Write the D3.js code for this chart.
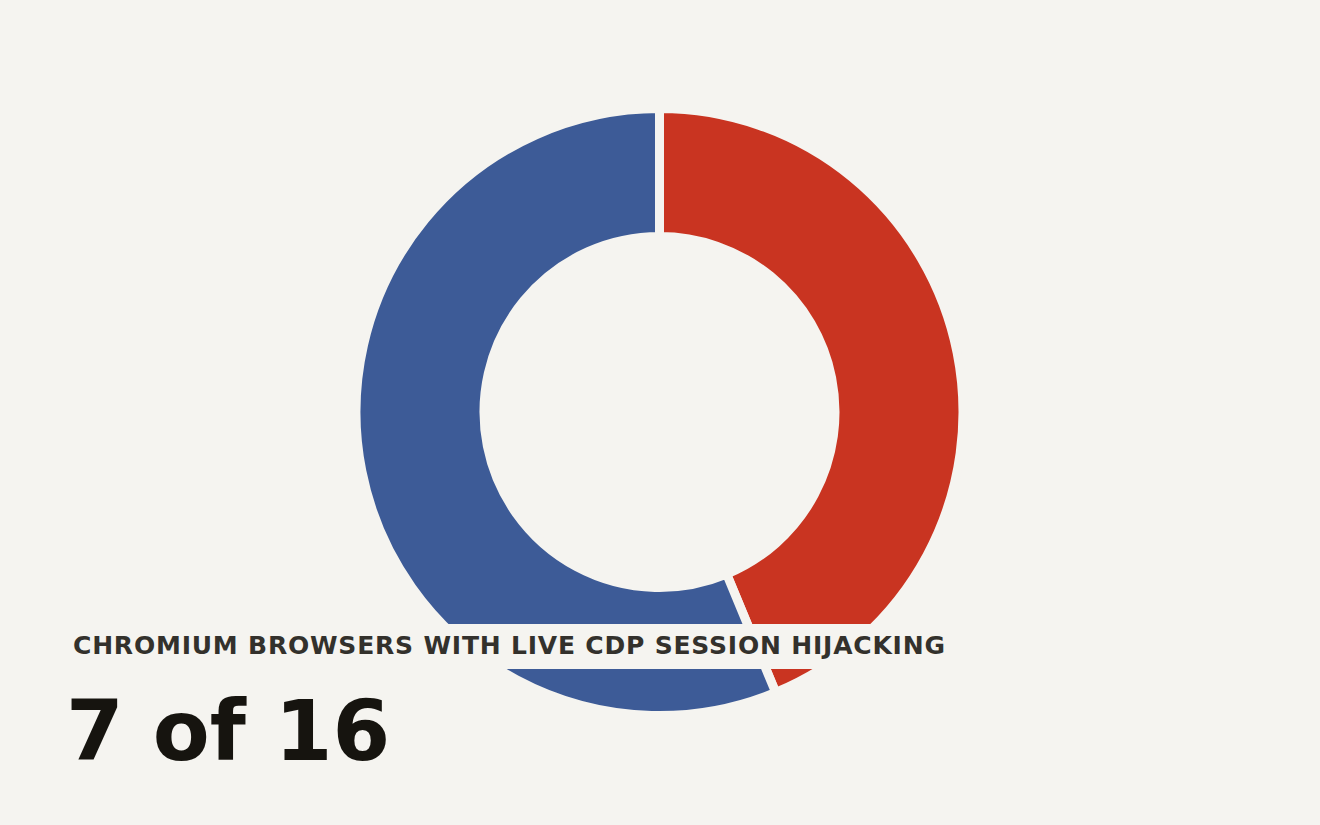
<!DOCTYPE html>
<html>
<head>
<meta charset="utf-8">
<script src="https://cdn.jsdelivr.net/npm/d3@7"></script>
<style>
  html, body { margin: 0; padding: 0; background: #f5f4f0; }
  svg { display: block; }
</style>
</head>
<body>
<svg id="canvas" width="1320" height="825"></svg>
<script>
// share of chromium browsers with live CDP session hijacking
const categories = ["Hijackable", "Not hijackable"];
const counts = [7, 9];
const colors = ["#c93421", "#3d5b97"];
const labelText = "CHROMIUM BROWSERS WITH LIVE CDP SESSION HIJACKING";

const total = d3.sum(counts);
const bg = "#f5f4f0";

const svg = d3.select("#canvas");
const width = 1320, height = 825;

svg.append("rect").attr("width", width).attr("height", height).attr("fill", bg);

const cx = 659.5, cy = 412;
const outerR = 303.5, innerR = 175.5;

const pie = d3.pie().sort(null).value(d => d.value);
const arc = d3.arc().innerRadius(innerR).outerRadius(outerR);

const slices = pie(categories.map((c, i) => ({ name: c, value: counts[i] })));

const donut = svg.append("g").attr("transform", `translate(${cx},${cy})`);
donut.selectAll("path")
  .data(slices)
  .enter().append("path")
  .attr("d", arc)
  .attr("fill", (d, i) => colors[i])
  .attr("stroke", bg)
  .attr("stroke-width", 9)
  .attr("stroke-linejoin", "miter");

// label band knocks out the ring behind it
svg.append("rect")
  .attr("x", 60).attr("y", 624)
  .attr("width", 900).attr("height", 45)
  .attr("fill", bg);

svg.append("text")
  .attr("x", 73).attr("y", 653.5)
  .attr("font-family", "DejaVu Sans")
  .attr("font-weight", "bold")
  .attr("font-size", 25)
  .attr("letter-spacing", 0.8)
  .attr("fill", "#33312c")
  .text(labelText);

svg.append("text")
  .attr("x", 66).attr("y", 760)
  .attr("font-family", "DejaVu Sans")
  .attr("font-weight", "bold")
  .attr("font-size", 83)
  .attr("fill", "#16140f")
  .text(`${counts[0]} of ${total}`);
</script>
</body>
</html>
